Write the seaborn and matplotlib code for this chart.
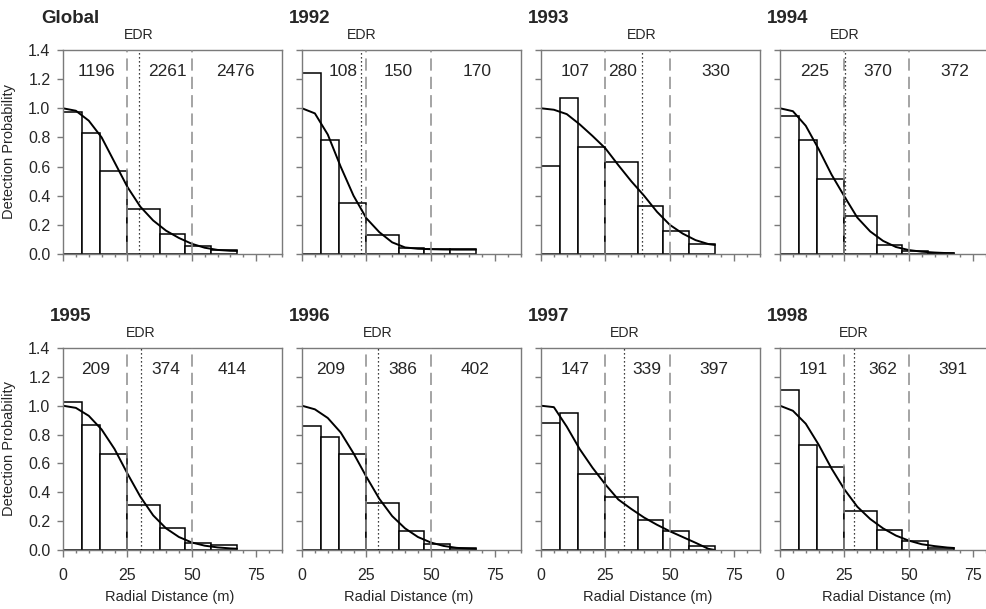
import numpy as np
import pandas as pd
import matplotlib
matplotlib.use("Agg")
import matplotlib.pyplot as plt
import matplotlib.ticker as mticker
import seaborn as sns

# panel names
PANELS = ["Global", "1992", "1993", "1994", "1995", "1996", "1997", "1998"]

# histogram bins (m)
BIN_EDGES = [0, 7.5, 14.5, 25, 37.5, 47.5, 57.5, 67.5]

# scaled detection frequencies per bin
H_GLOBAL = [0.973, 0.831, 0.569, 0.308, 0.135, 0.057, 0.025]
H_1992 = [1.244, 0.785, 0.349, 0.133, 0.039, 0.032, 0.035]
H_1993 = [0.606, 1.074, 0.732, 0.631, 0.326, 0.158, 0.071]
H_1994 = [0.945, 0.779, 0.512, 0.258, 0.062, 0.018, 0.009]
H_1995 = [1.026, 0.869, 0.662, 0.311, 0.152, 0.048, 0.032]
H_1996 = [0.860, 0.786, 0.662, 0.325, 0.134, 0.042, 0.014]
H_1997 = [0.883, 0.950, 0.530, 0.367, 0.208, 0.129, 0.030]
H_1998 = [1.112, 0.725, 0.576, 0.267, 0.140, 0.064, 0.016]

# fitted detection function
CURVE_X = [0, 5, 10, 15, 20, 25, 30, 35, 40, 45, 50, 55, 60, 65, 67.5]
G_GLOBAL = [1.0, 0.983, 0.915, 0.80, 0.63, 0.46, 0.325, 0.23, 0.16, 0.11, 0.07, 0.043, 0.028, 0.022, 0.021]
G_1992 = [1.0, 0.965, 0.82, 0.60, 0.40, 0.245, 0.15, 0.08, 0.045, 0.036, 0.033, 0.031, 0.030, 0.030, 0.030]
G_1993 = [1.0, 0.99, 0.96, 0.89, 0.81, 0.725, 0.61, 0.50, 0.40, 0.29, 0.20, 0.14, 0.095, 0.068, 0.062]
G_1994 = [1.0, 0.98, 0.88, 0.72, 0.545, 0.395, 0.25, 0.155, 0.09, 0.048, 0.027, 0.016, 0.010, 0.006, 0.005]
G_1995 = [1.0, 0.985, 0.93, 0.835, 0.70, 0.53, 0.37, 0.24, 0.15, 0.09, 0.052, 0.030, 0.018, 0.011, 0.009]
G_1996 = [1.0, 0.975, 0.915, 0.815, 0.67, 0.507, 0.355, 0.235, 0.15, 0.09, 0.052, 0.028, 0.015, 0.009, 0.007]
G_1997 = [1.0, 0.99, 0.855, 0.70, 0.57, 0.454, 0.35, 0.285, 0.225, 0.175, 0.13, 0.09, 0.05, 0.008, 0.0]
G_1998 = [1.0, 0.965, 0.875, 0.73, 0.565, 0.42, 0.30, 0.215, 0.15, 0.10, 0.065, 0.04, 0.027, 0.017, 0.014]

# effective detection radius (m)
EDR = [29.5, 23.0, 39.1, 25.2, 30.2, 29.5, 32.3, 28.6]

# detections in each distance band
N_NEAR = [1196, 108, 107, 225, 209, 209, 147, 191]
N_MID = [2261, 150, 280, 370, 374, 386, 339, 362]
N_FAR = [2476, 170, 330, 372, 414, 402, 397, 391]

HEIGHTS = [H_GLOBAL, H_1992, H_1993, H_1994, H_1995, H_1996, H_1997, H_1998]
CURVES = [G_GLOBAL, G_1992, G_1993, G_1994, G_1995, G_1996, G_1997, G_1998]

# where the count labels sit (x, m)
NEAR_POS = [13, 16, 13.3, 13.3, 12.6, 11, 13.2, 13]
MID_POS = [40.5, 37.5, 31.6, 38, 40, 39, 41, 40]
FAR_POS = [67, 68, 68, 67.7, 65.5, 67, 67, 67]

sns.set_theme(style="white")
plt.rcParams["font.family"] = ["Liberation Sans", "DejaVu Sans"]

W, H = 987, 609
fig = plt.figure(figsize=(W / 100, H / 100), dpi=100)

lefts = [63, 302, 541, 780]
rows = [(50, 254), (348, 550)]
spine_col = "#7a7a7a"
mids = [(a + b) / 2 for a, b in zip(BIN_EDGES[:-1], BIN_EDGES[1:])]

for i, name in enumerate(PANELS):
    r, c = divmod(i, 4)
    top, bot = rows[r]
    ax = fig.add_axes([lefts[c] / W, 1 - bot / H, 219 / W, (bot - top) / H])

    df = pd.DataFrame({"dist": mids, "p": HEIGHTS[i]})
    sns.histplot(data=df, x="dist", weights="p", bins=BIN_EDGES, ax=ax,
                 color="white", edgecolor="black", linewidth=1.1, alpha=1)
    sns.lineplot(x=CURVE_X, y=CURVES[i], ax=ax, color="black", linewidth=1.4)

    for d in (25, 50):
        ax.axvline(d, color="#8c8c8c", linewidth=1.1, dashes=(8, 4), zorder=5)
    ax.axvline(EDR[i], color="black", linewidth=0.9, linestyle=(0, (1, 2.2)), zorder=5)

    ax.set_xlim(0, 85)
    ax.set_ylim(0, 1.4)

    for s in ax.spines.values():
        s.set_visible(True)
        s.set_color(spine_col)
        s.set_linewidth(1.0)

    ax.xaxis.set_major_locator(mticker.FixedLocator([0, 25, 50, 75]))
    ax.xaxis.set_minor_locator(mticker.MultipleLocator(5))
    ax.yaxis.set_major_locator(mticker.MultipleLocator(0.2))
    ax.yaxis.set_major_formatter(mticker.FormatStrFormatter("%.1f"))
    ax.tick_params(axis="x", which="major", direction="out", length=5, width=1,
                   color=spine_col, bottom=True, pad=8, labelsize=11.5)
    ax.tick_params(axis="x", which="minor", direction="out", length=2.5, width=1,
                   color=spine_col, bottom=True)
    ax.tick_params(axis="y", which="major", direction="out", length=4, width=1,
                   color=spine_col, left=True, pad=5, labelsize=11.5)

    if c != 0:
        ax.tick_params(axis="y", labelleft=False)
        ax.set_ylabel("")
    else:
        ax.set_ylabel("Detection Probability", fontsize=10.5)
        ax.yaxis.set_label_coords(-0.215, 0.5)
    if r == 0:
        ax.tick_params(axis="x", labelbottom=False)
        ax.set_xlabel("")
    else:
        ax.set_xlabel("Radial Distance (m)", fontsize=10.5)
        ax.xaxis.set_label_coords(0.485, -0.2)

    ax.text(0.034, 1.155, name, transform=ax.transAxes, ha="center", va="center",
            fontsize=13.5, fontweight="bold", clip_on=False)
    ax.text(EDR[i], 1.505, "EDR", ha="center", va="center", fontsize=10.2, clip_on=False)

    for xpos, n in zip([NEAR_POS[i], MID_POS[i], FAR_POS[i]], [N_NEAR[i], N_MID[i], N_FAR[i]]):
        ax.text(xpos, 1.25, str(n), ha="center", va="center", fontsize=12.5)

fig.savefig("out.png", dpi=100)
